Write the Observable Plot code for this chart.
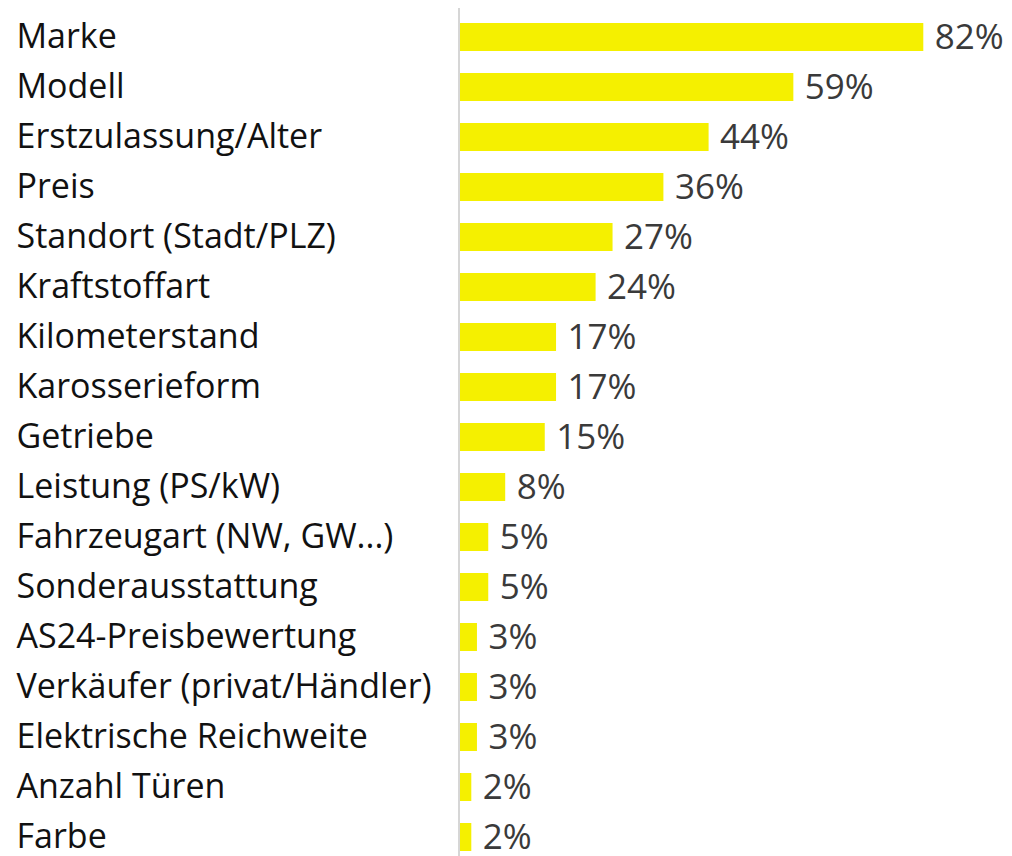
<!DOCTYPE html>
<html>
<head>
<meta charset="utf-8">
<script src="https://cdn.jsdelivr.net/npm/d3@7"></script>
<script src="https://cdn.jsdelivr.net/npm/@observablehq/plot@0.6"></script>
<style>
  html, body { margin: 0; padding: 0; background: #fff; }
  #chart svg { display: block; }
</style>
</head>
<body>
<div id="chart"></div>
<script>
const categories = [
  "Marke", "Modell", "Erstzulassung/Alter", "Preis", "Standort (Stadt/PLZ)",
  "Kraftstoffart", "Kilometerstand", "Karosserieform", "Getriebe",
  "Leistung (PS/kW)", "Fahrzeugart (NW, GW...)", "Sonderausstattung",
  "AS24-Preisbewertung", "Verkäufer (privat/Händler)", "Elektrische Reichweite",
  "Anzahl Türen", "Farbe"
];
const values = [82, 59, 44, 36, 27, 24, 17, 17, 15, 8, 5, 5, 3, 3, 3, 2, 2];
const valueLabels = ["82%", "59%", "44%", "36%", "27%", "24%", "17%", "17%", "15%", "8%", "5%", "5%", "3%", "3%", "3%", "2%", "2%"];

const data = categories.map((c, i) => ({ category: c, value: values[i], label: valueLabels[i] }));
const font = "'Open Sans', Lato, sans-serif";

const chart = Plot.plot({
  width: 1012,
  height: 856,
  marginLeft: 460,
  marginRight: 0,
  marginTop: 8,
  marginBottom: 0,
  style: { fontFamily: font, background: "#fff" },
  x: { domain: [0, 97.7], axis: null },
  y: { domain: categories, range: [8.8, 865.6], paddingInner: 0.444, paddingOuter: 0.222, axis: null },
  marks: [
    Plot.ruleX([0], { stroke: "#d6d6d6", strokeWidth: 2, dx: -1.5 }),
    Plot.barX(data, { y: "category", x: "value", fill: "#f5f000" }),
    Plot.text(data, {
      y: "category", text: "category", frameAnchor: "left", textAnchor: "start",
      dx: -444, fontSize: 34, fill: "#111", fontFamily: font
    }),
    Plot.text(data, {
      y: "category", x: "value", text: "label", textAnchor: "start",
      dx: 11, fontSize: 35, fill: "#3a3a3a", fontFamily: font
    })
  ]
});
document.getElementById("chart").appendChild(chart);
</script>
</body>
</html>
